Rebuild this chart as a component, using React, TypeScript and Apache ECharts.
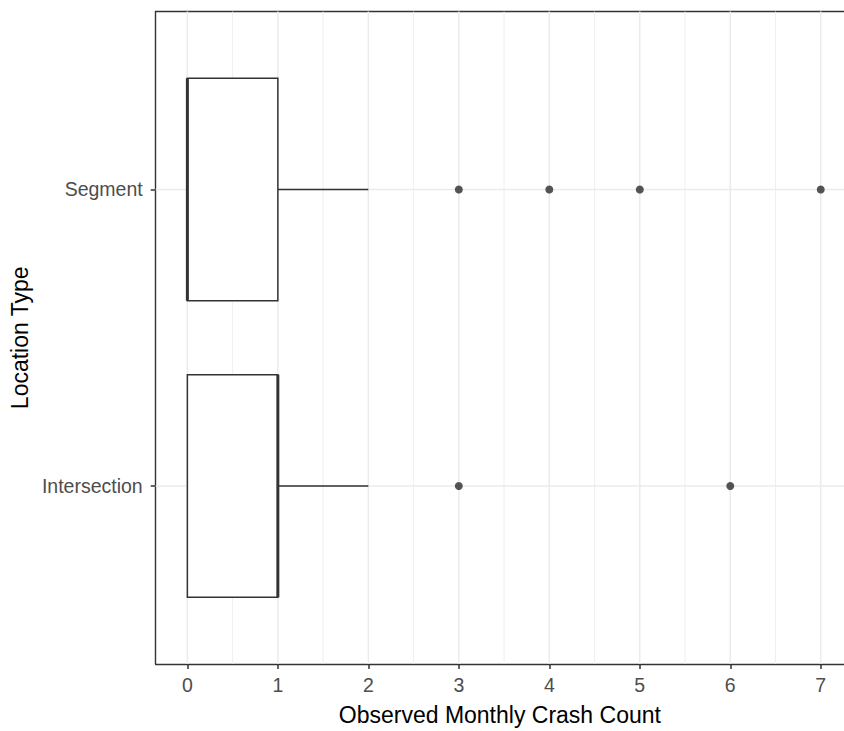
import React, { useEffect, useRef } from "react";
import * as echarts from "echarts";

// Categories (bottom to top), positioned at 1 and 2 on the vertical scale
const CATEGORIES = ["Intersection", "Segment"];
// Box statistics per category: [position, q1, median, q3, whiskerLow, whiskerHigh]
const BOX_STATS = [
  [1, 0, 1, 1, 0, 2],
  [2, 0, 0, 1, 0, 2],
];
// Outliers: [crash count, category position]
const OUTLIERS = [
  [3, 1],
  [6, 1],
  [3, 2],
  [4, 2],
  [5, 2],
  [7, 2],
];
const X_TICKS = [0, 1, 2, 3, 4, 5, 6, 7];
const X_MINOR = [0.5, 1.5, 2.5, 3.5, 4.5, 5.5, 6.5];
const Y_TICKS = [1, 2];

// panel continues past the right edge of the picture
const X_MIN = -0.35;
const X_MAX = 7.257;
const Y_MIN = 0.4;
const Y_MAX = 2.6;
const BOX_WIDTH = 0.75;

const FONT = "'Liberation Sans', Arial, sans-serif";
const BORDER = { color: "#333333", width: 1.4 };

export default function App() {
  const ref = useRef<HTMLDivElement>(null);

  useEffect(() => {
    if (!ref.current) return;
    const chart = echarts.init(ref.current, null, { renderer: "svg" });

    const vLine = (width: number) => (params: any, api: any) => {
      const v = api.value(0);
      const a = api.coord([v, Y_MIN]);
      const b = api.coord([v, Y_MAX]);
      return {
        type: "line",
        shape: { x1: a[0], y1: a[1], x2: b[0], y2: b[1] },
        style: { stroke: "#EBEBEB", lineWidth: width },
        silent: true,
      };
    };

    const hLine = (params: any, api: any) => {
      const v = api.value(0);
      const a = api.coord([X_MIN, v]);
      const b = api.coord([X_MAX, v]);
      return {
        type: "line",
        shape: { x1: a[0], y1: a[1], x2: b[0], y2: b[1] },
        style: { stroke: "#EBEBEB", lineWidth: 1.5 },
        silent: true,
      };
    };

    const renderBox = (params: any, api: any) => {
      const cat = api.value(0);
      const q1 = api.value(1);
      const med = api.value(2);
      const q3 = api.value(3);
      const lo = api.value(4);
      const hi = api.value(5);
      const half = BOX_WIDTH / 2;
      const tl = api.coord([q1, cat + half]);
      const br = api.coord([q3, cat - half]);
      const c3 = api.coord([q3, cat]);
      const cHi = api.coord([hi, cat]);
      const cLo = api.coord([lo, cat]);
      const c1 = api.coord([q1, cat]);
      const mTop = api.coord([med, cat + half]);
      const mBot = api.coord([med, cat - half]);
      const stroke = "#333333";
      return {
        type: "group",
        children: [
          {
            type: "line",
            shape: { x1: c3[0], y1: c3[1], x2: cHi[0], y2: cHi[1] },
            style: { stroke, lineWidth: 1.5 },
          },
          {
            type: "line",
            shape: { x1: cLo[0], y1: cLo[1], x2: c1[0], y2: c1[1] },
            style: { stroke, lineWidth: 1.5 },
          },
          {
            type: "rect",
            shape: { x: tl[0], y: tl[1], width: br[0] - tl[0], height: br[1] - tl[1] },
            style: { fill: "#FFFFFF", stroke, lineWidth: 1.5 },
          },
          {
            type: "line",
            shape: { x1: mTop[0], y1: mTop[1], x2: mBot[0], y2: mBot[1] },
            style: { stroke, lineWidth: 3 },
          },
        ],
      };
    };

    chart.setOption({
      animation: false,
      backgroundColor: "#FFFFFF",
      textStyle: { fontFamily: FONT },
      grid: {
        left: 154,
        top: 11.5,
        right: 0,
        bottom: 61,
        show: false,
        containLabel: false,
      },
      xAxis: [
        {
          type: "value",
          position: "bottom",
          min: X_MIN,
          max: X_MAX,
          name: "Observed Monthly Crash Count",
          nameLocation: "middle",
          nameGap: 39,
          nameTextStyle: { color: "#000000", fontSize: 23, fontFamily: FONT },
          axisLine: { show: true, onZero: false, lineStyle: BORDER },
          axisTick: {
            show: true,
            length: 5,
            customValues: X_TICKS,
            lineStyle: { color: "#333333", width: 1.5 },
          },
          axisLabel: {
            customValues: X_TICKS,
            color: "#4D4D4D",
            fontSize: 19.5,
            margin: 11,
            fontFamily: FONT,
          },
          splitLine: { show: false },
        },
        {
          type: "value",
          position: "top",
          min: X_MIN,
          max: X_MAX,
          axisLine: { show: true, onZero: false, lineStyle: BORDER },
          axisTick: { show: false },
          axisLabel: { show: false },
          splitLine: { show: false },
        },
      ],
      yAxis: {
        type: "value",
        min: Y_MIN,
        max: Y_MAX,
        name: "Location Type",
        nameLocation: "middle",
        nameRotate: 90,
        nameGap: 108,
        nameTextStyle: { color: "#000000", fontSize: 23, fontFamily: FONT },
        axisLine: { show: true, onZero: false, lineStyle: BORDER },
        axisTick: {
          show: true,
          length: 5,
          customValues: Y_TICKS,
          lineStyle: { color: "#333333", width: 1.5 },
        },
        axisLabel: {
          customValues: Y_TICKS,
          formatter: (v: number) => CATEGORIES[Math.round(v) - 1] ?? "",
          color: "#4D4D4D",
          fontSize: 19.5,
          margin: 13,
          fontFamily: FONT,
        },
        splitLine: { show: false },
      },
      series: [
        {
          type: "custom",
          renderItem: vLine(0.8),
          data: X_MINOR.map((v) => [v]),
          z: 1,
          silent: true,
        },
        {
          type: "custom",
          renderItem: vLine(1.5),
          data: X_TICKS.map((v) => [v]),
          z: 1,
          silent: true,
        },
        {
          type: "custom",
          renderItem: hLine,
          data: Y_TICKS.map((v) => [v]),
          z: 1,
          silent: true,
        },
        {
          type: "custom",
          renderItem: renderBox,
          data: BOX_STATS,
          z: 2,
          encode: { x: [1, 2, 3, 4, 5], y: 0 },
        },
        {
          type: "scatter",
          data: OUTLIERS,
          symbol: "circle",
          symbolSize: 8,
          itemStyle: { color: "#2B2B2B" },
          z: 3,
        },
      ],
    });

    return () => chart.dispose();
  }, []);

  return (
    <div
      ref={ref}
      style={{ position: "absolute", left: 0, top: 0, width: 844, height: 731 }}
    />
  );
}
